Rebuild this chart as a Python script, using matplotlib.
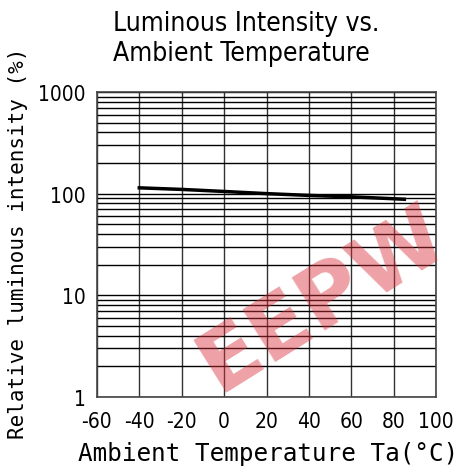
import matplotlib
matplotlib.use("Agg")
import matplotlib.pyplot as plt
from matplotlib.ticker import FixedLocator, LogLocator, NullFormatter

# curve
temps = [-40, -20, 0, 20, 40, 60, 80, 85]
intensity = [114, 110, 105, 100, 96, 93, 89, 88]

x_ticks = [-60, -40, -20, 0, 20, 40, 60, 80, 100]
x_labels = ["-60", "-40", "-20", "0", "20", "40", "60", "80", "100"]
y_ticks = [1, 10, 100, 1000]
y_labels = ["1", "10", "100", "1000"]

narrow = ["DejaVu Sans"]
mono = ["DejaVu Sans Mono"]

fig = plt.figure(figsize=(4.68, 4.77), dpi=100)
ax = fig.add_axes([0.207, 0.166, 0.725, 0.639])

ax.set_yscale("log")
ax.set_xlim(-60, 100)
ax.set_ylim(1, 1000)

ax.xaxis.set_major_locator(FixedLocator(x_ticks))
ax.set_xticklabels(x_labels)
ax.yaxis.set_major_locator(FixedLocator(y_ticks))
ax.yaxis.set_minor_locator(LogLocator(base=10, subs=range(2, 10)))
ax.yaxis.set_minor_formatter(NullFormatter())
ax.set_yticklabels(y_labels)

ax.grid(True, which="both", axis="y", color="black", linewidth=1.0)
ax.grid(True, which="major", axis="x", color="#333333", linewidth=1.0)
ax.tick_params(which="both", length=0, labelsize=15)
ax.tick_params(axis="x", pad=10)
ax.tick_params(axis="y", pad=8)
for lbl in ax.get_xticklabels() + ax.get_yticklabels():
    lbl.set_family(narrow)
    lbl.set_fontstretch("condensed")
    lbl.set_fontweight("light")
for s in ax.spines.values():
    s.set_color("#444444")
    s.set_linewidth(1.2)

ax.plot(temps, intensity, color="black", linewidth=2.5, zorder=5)

fig.text(0.241, 0.977, "Luminous Intensity vs.\nAmbient Temperature",
         ha="left", va="top", fontsize=19, family=narrow, fontstretch="condensed",
         fontweight="light", linespacing=1.2)
fig.text(0.038, 0.49, "Relative luminous intensity (%)", rotation=90,
         ha="center", va="center", fontsize=15, family=mono)
fig.text(0.573, 0.023, "Ambient Temperature Ta(°C)", ha="center", va="bottom",
         fontsize=17.5, family=mono)

# watermark
fig.text(0.69, 0.37, "EEPW", rotation=32, ha="center", va="center",
         fontsize=62, fontweight="bold", color="#d9303a", alpha=0.45,
         family="DejaVu Sans", zorder=10)

fig.savefig("out.png", dpi=100)
